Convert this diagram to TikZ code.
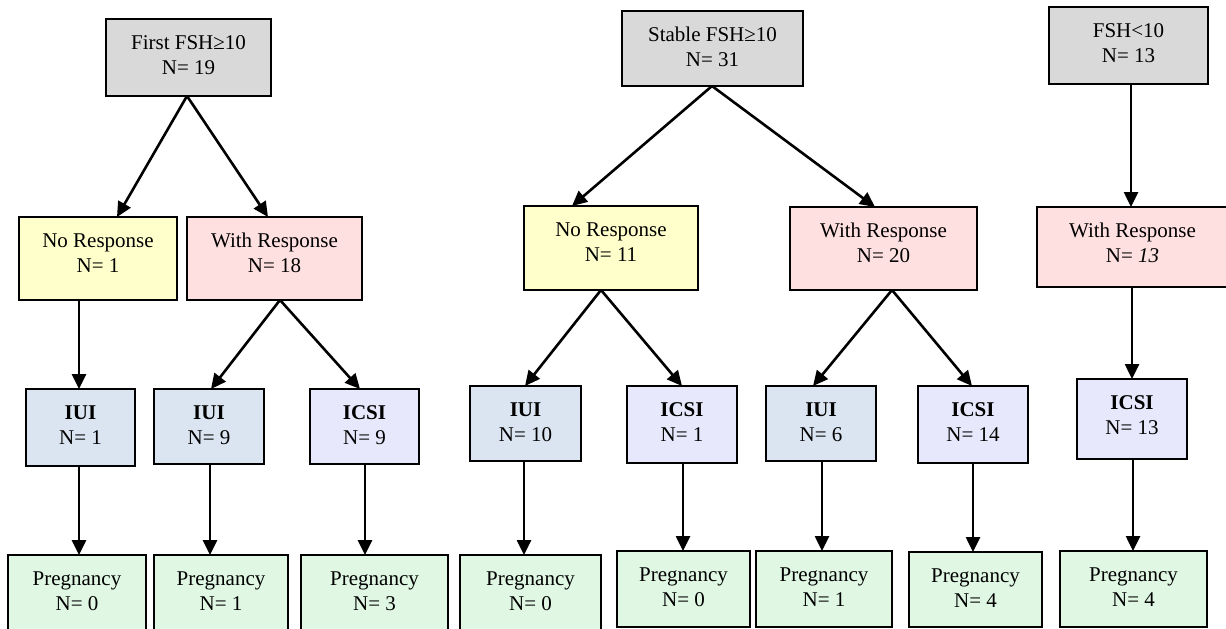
\documentclass[tikz,border=0pt]{standalone}
\usepackage{fontspec}
\setmainfont{Liberation Serif}
\usetikzlibrary{arrows.meta}
\definecolor{cgray}{HTML}{D9D9D9}
\definecolor{cyel}{HTML}{FFFFCC}
\definecolor{cpink}{HTML}{FFE0E1}
\definecolor{ciui}{HTML}{DBE5F1}
\definecolor{cicsi}{HTML}{E8E8FC}
\definecolor{cpreg}{HTML}{DFF7E3}
\tikzset{
  boxst/.style={draw=black, line width=2pt, rectangle, inner sep=0pt, outer sep=0pt},
  txt/.style={inner sep=0pt, font=\fontsize{21}{25}\selectfont},
  arr/.style={line width=2.6pt, -{Triangle[length=15pt,width=14pt]}}
}
\newcommand\mkbx[8]{%
  \node[boxst, fill=#6, minimum width={#4-#2}, minimum height={#5-#3}] (#1) at ({(#2+#4)/2},{(#3+#5)/2}) {};
  \node[txt, anchor=base] (#1a) at ({(#2+#4)/2},{#3+30.5}) {#7};
  \node[txt, anchor=base] (#1b) at ({(#2+#4)/2},{#3+55.5}) {#8};
}
\begin{document}
\begin{tikzpicture}[x=1pt,y=-1pt]
\useasboundingbox (0,0) rectangle (1226,629);
\clip (0,0) rectangle (1226,629);
\fill[white] (0,0) rectangle (1226,629);
% Tree 1
\mkbx{top1}{106}{19}{271}{96}{cgray}{First FSH≥10}{N= 19}
\mkbx{nr1}{19}{217}{177}{300}{cyel}{No Response}{N= 1}
\mkbx{wr1}{187}{217}{362}{300}{cpink}{With Response}{N= 18}
\mkbx{iui1}{26}{389}{135}{466}{ciui}{\textbf{IUI}}{N= 1}
\mkbx{iui9}{154}{389}{264}{464}{ciui}{\textbf{IUI}}{N= 9}
\mkbx{icsi9}{310}{389}{419}{464}{cicsi}{\textbf{ICSI}}{N= 9}
\mkbx{pa}{8}{555}{146}{640}{cpreg}{Pregnancy}{N= 0}
\mkbx{pb}{154}{555}{288}{640}{cpreg}{Pregnancy}{N= 1}
\mkbx{pc}{301}{555}{448}{640}{cpreg}{Pregnancy}{N= 3}
% Tree 2
\mkbx{top2}{622}{11}{803}{86}{cgray}{Stable FSH≥10}{N= 31}
\mkbx{nr2}{524}{206}{698}{290}{cyel}{No Response}{N= 11}
\mkbx{wr2}{790}{207}{977}{290}{cpink}{With Response}{N= 20}
\mkbx{iui10}{470}{386}{581}{461}{ciui}{\textbf{IUI}}{N= 10}
\mkbx{icsi1}{627}{386}{737}{463}{cicsi}{\textbf{ICSI}}{N= 1}
\mkbx{iui6}{766}{386}{876}{461}{ciui}{\textbf{IUI}}{N= 6}
\mkbx{icsi14}{918}{386}{1028}{463}{cicsi}{\textbf{ICSI}}{N= 14}
\mkbx{pd}{460}{555}{601}{640}{cpreg}{Pregnancy}{N= 0}
\mkbx{pe}{617}{551}{750}{627}{cpreg}{Pregnancy}{N= 0}
\mkbx{pf}{756}{551}{892}{627}{cpreg}{Pregnancy}{N= 1}
\mkbx{pg}{909}{552}{1042}{627}{cpreg}{Pregnancy}{N= 4}
% Tree 3
\mkbx{top3}{1049}{7}{1208}{84}{cgray}{FSH<10}{N= 13}
\mkbx{wr3}{1037}{207}{1228}{287}{cpink}{With Response}{N= \textit{13}}
\mkbx{icsi13}{1077}{379}{1187}{459}{cicsi}{\textbf{ICSI}}{N= 13}
\mkbx{ph}{1060}{551}{1207}{627}{cpreg}{Pregnancy}{N= 4}
% Arrows tree 1
\draw[arr] (top1.south -| 187,0) -- (nr1.north -| 117,0);
\draw[arr] (top1.south -| 187,0) -- (wr1.north -| 268,0);
\draw[arr] (nr1.south -| 79,0) -- (iui1.north -| 79,0);
\draw[arr] (wr1.south -| 280,0) -- (iui9.north -| 211,0);
\draw[arr] (wr1.south -| 280,0) -- (icsi9.north -| 360,0);
\draw[arr] (iui1.south -| 79,0) -- (pa.north -| 79,0);
\draw[arr] (iui9.south -| 210,0) -- (pb.north -| 210,0);
\draw[arr] (icsi9.south -| 365,0) -- (pc.north -| 365,0);
% Arrows tree 2
\draw[arr] (top2.south -| 712,0) -- (nr2.north -| 572,0);
\draw[arr] (top2.south -| 712,0) -- (wr2.north -| 875,0);
\draw[arr] (nr2.south -| 601,0) -- (iui10.north -| 525,0);
\draw[arr] (nr2.south -| 601,0) -- (icsi1.north -| 682,0);
\draw[arr] (wr2.south -| 892,0) -- (iui6.north -| 813,0);
\draw[arr] (wr2.south -| 892,0) -- (icsi14.north -| 972,0);
\draw[arr] (iui10.south -| 524,0) -- (pd.north -| 524,0);
\draw[arr] (icsi1.south -| 683,0) -- (pe.north -| 683,0);
\draw[arr] (iui6.south -| 822,0) -- (pf.north -| 822,0);
\draw[arr] (icsi14.south -| 973,0) -- (pg.north -| 973,0);
% Arrows tree 3
\draw[arr] (top3.south -| 1131,0) -- (wr3.north -| 1131,0);
\draw[arr] (wr3.south -| 1132,0) -- (icsi13.north -| 1132,0);
\draw[arr] (icsi13.south -| 1133,0) -- (ph.north -| 1133,0);
\end{tikzpicture}
\end{document}
